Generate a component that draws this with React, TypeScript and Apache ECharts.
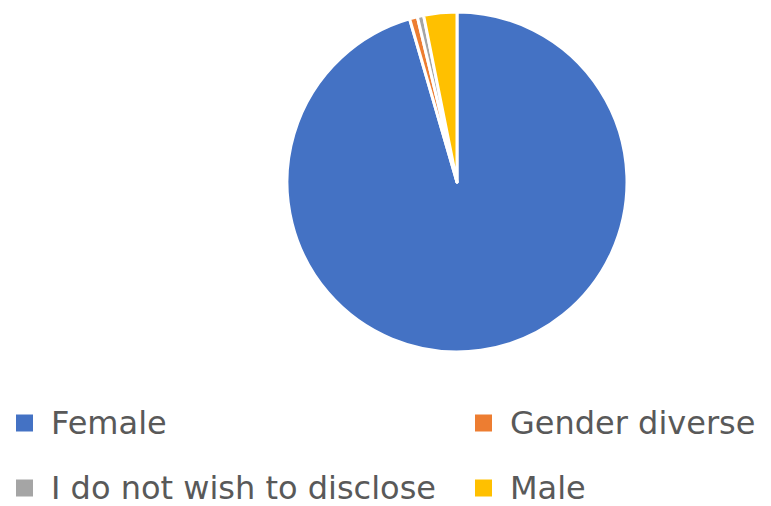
import React, { useEffect, useRef } from "react";
import * as echarts from "echarts";

const categories = ["Female", "Gender diverse", "I do not wish to disclose", "Male"];
const values = [95.5, 0.75, 0.6, 3.15];
const colors = ["#4472C4", "#ED7D31", "#A5A5A5", "#FFC000"];

export default function App() {
  const ref = useRef<HTMLDivElement>(null);
  useEffect(() => {
    document.body.style.margin = "0";
    const chart = echarts.init(ref.current!, null, { renderer: "svg" });
    const legendPos = [
      { left: 14, top: 407 },
      { left: 473, top: 407 },
      { left: 14, top: 472 },
      { left: 473, top: 472 },
    ];
    chart.setOption({
      animation: false,
      color: colors,
      legend: categories.map((c, i) => ({
        data: [c],
        left: legendPos[i].left,
        top: legendPos[i].top,
        icon: "rect",
        itemWidth: 19,
        itemHeight: 19,
        padding: 0,
        textStyle: {
          fontFamily: "DejaVu Sans",
          fontSize: 32,
          lineHeight: 30,
          color: "#595959",
          padding: [0, 0, 0, 12],
        },
      })),
      series: [
        {
          type: "pie",
          center: [457, 182],
          radius: 170,
          startAngle: 90,
          clockwise: true,
          label: { show: false },
          labelLine: { show: false },
          itemStyle: { borderColor: "#ffffff", borderWidth: 3 },
          data: categories.map((c, i) => ({ name: c, value: values[i] })),
        },
      ],
    });
    return () => chart.dispose();
  }, []);
  return <div ref={ref} style={{ width: 771, height: 506 }} />;
}
